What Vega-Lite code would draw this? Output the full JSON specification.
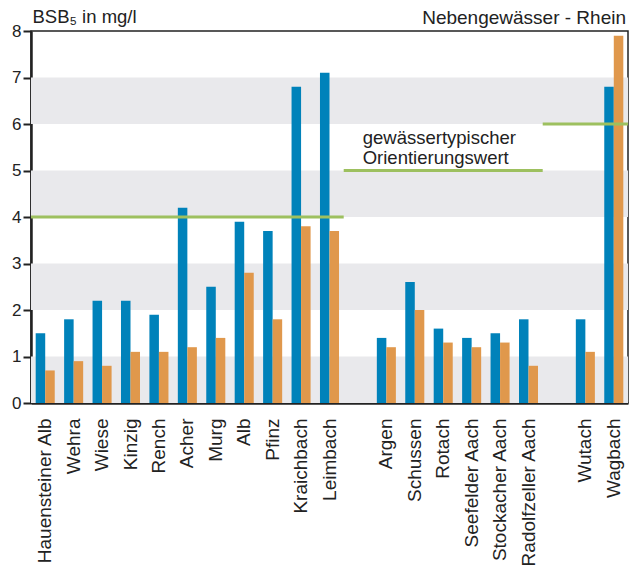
{
  "$schema": "https://vega.github.io/schema/vega-lite/v6.json",
  "autosize": "none",
  "width": 597,
  "height": 372,
  "padding": {"left": 31, "top": 31, "right": 1, "bottom": 165},
  "background": "white",
  "config": {
    "font": "Liberation Sans",
    "view": {"stroke": "#222", "strokeWidth": 1.5}
  },
  "datasets": {
    "bands": [
      {"lo": 0, "hi": 1}, {"lo": 2, "hi": 3}, {"lo": 4, "hi": 5}, {"lo": 6, "hi": 7}
    ],
    "bsb": [
      {"river": "Hauensteiner Alb", "series": "Serie 1", "value": 1.5},
      {"river": "Hauensteiner Alb", "series": "Serie 2", "value": 0.7},
      {"river": "Wehra", "series": "Serie 1", "value": 1.8},
      {"river": "Wehra", "series": "Serie 2", "value": 0.9},
      {"river": "Wiese", "series": "Serie 1", "value": 2.2},
      {"river": "Wiese", "series": "Serie 2", "value": 0.8},
      {"river": "Kinzig", "series": "Serie 1", "value": 2.2},
      {"river": "Kinzig", "series": "Serie 2", "value": 1.1},
      {"river": "Rench", "series": "Serie 1", "value": 1.9},
      {"river": "Rench", "series": "Serie 2", "value": 1.1},
      {"river": "Acher", "series": "Serie 1", "value": 4.2},
      {"river": "Acher", "series": "Serie 2", "value": 1.2},
      {"river": "Murg", "series": "Serie 1", "value": 2.5},
      {"river": "Murg", "series": "Serie 2", "value": 1.4},
      {"river": "Alb", "series": "Serie 1", "value": 3.9},
      {"river": "Alb", "series": "Serie 2", "value": 2.8},
      {"river": "Pfinz", "series": "Serie 1", "value": 3.7},
      {"river": "Pfinz", "series": "Serie 2", "value": 1.8},
      {"river": "Kraichbach", "series": "Serie 1", "value": 6.8},
      {"river": "Kraichbach", "series": "Serie 2", "value": 3.8},
      {"river": "Leimbach", "series": "Serie 1", "value": 7.1},
      {"river": "Leimbach", "series": "Serie 2", "value": 3.7},
      {"river": "Argen", "series": "Serie 1", "value": 1.4},
      {"river": "Argen", "series": "Serie 2", "value": 1.2},
      {"river": "Schussen", "series": "Serie 1", "value": 2.6},
      {"river": "Schussen", "series": "Serie 2", "value": 2.0},
      {"river": "Rotach", "series": "Serie 1", "value": 1.6},
      {"river": "Rotach", "series": "Serie 2", "value": 1.3},
      {"river": "Seefelder Aach", "series": "Serie 1", "value": 1.4},
      {"river": "Seefelder Aach", "series": "Serie 2", "value": 1.2},
      {"river": "Stockacher Aach", "series": "Serie 1", "value": 1.5},
      {"river": "Stockacher Aach", "series": "Serie 2", "value": 1.3},
      {"river": "Radolfzeller Aach", "series": "Serie 1", "value": 1.8},
      {"river": "Radolfzeller Aach", "series": "Serie 2", "value": 0.8},
      {"river": "Wutach", "series": "Serie 1", "value": 1.8},
      {"river": "Wutach", "series": "Serie 2", "value": 1.1},
      {"river": "Wagbach", "series": "Serie 1", "value": 6.8},
      {"river": "Wagbach", "series": "Serie 2", "value": 7.9}
    ],
    "refs": [
      {"start": 0, "end": 11, "value": 4},
      {"start": 11, "end": 18, "value": 5},
      {"start": 18, "end": 21, "value": 6}
    ],
    "note": [
      {"pos": 11, "value": 5}
    ],
    "heading": [
      {"pos": 21, "value": 8, "label": "Nebengewässer - Rhein"}
    ]
  },
  "resolve": {"scale": {"x": "independent"}, "axis": {"x": "independent"}},
  "layer": [
    {
      "data": {"name": "bands"},
      "mark": {"type": "rect", "color": "#e9e9ec"},
      "encoding": {
        "y": {
          "field": "lo", "type": "quantitative",
          "scale": {"domain": [0, 8], "nice": false},
          "axis": {
            "title": "BSB₅ in mg/l",
            "titleAngle": 0,
            "titleX": 1,
            "titleY": -9,
            "titleAlign": "left",
            "titleBaseline": "alphabetic",
            "titleFontSize": 18.5,
            "titleFontWeight": "normal",
            "titleColor": "#222",
            "values": [0, 1, 2, 3, 4, 5, 6, 7, 8],
            "labelFontSize": 17,
            "labelColor": "#222",
            "labelPadding": 2,
            "tickSize": 8,
            "tickWidth": 2,
            "tickColor": "#222",
            "domainColor": "#222",
            "domainWidth": 2.5,
            "grid": false
          }
        },
        "y2": {"field": "hi"}
      }
    },
    {
      "data": {"name": "bsb"},
      "mark": {"type": "bar"},
      "encoding": {
        "x": {
          "field": "river", "type": "nominal",
          "scale": {
            "domain": ["Hauensteiner Alb", "Wehra", "Wiese", "Kinzig", "Rench", "Acher", "Murg", "Alb", "Pfinz", "Kraichbach", "Leimbach", "gap1", "Argen", "Schussen", "Rotach", "Seefelder Aach", "Stockacher Aach", "Radolfzeller Aach", "gap2", "Wutach", "Wagbach"],
            "paddingInner": 0.33, "paddingOuter": 0.165
          },
          "axis": {
            "title": null,
            "labelExpr": "indexof(datum.value, 'gap') == 0 ? '' : datum.value",
            "labelAngle": -90,
            "labelFontSize": 19,
            "labelColor": "#222",
            "labelPadding": 15,
            "ticks": false,
            "domainColor": "#222",
            "domainWidth": 2.5,
            "grid": false
          }
        },
        "xOffset": {"field": "series", "type": "nominal", "scale": {"paddingInner": 0, "paddingOuter": 0}},
        "y": {
          "field": "value", "type": "quantitative",
          "title": "BSB₅ in mg/l"
        },
        "color": {
          "field": "series", "type": "nominal",
          "scale": {"range": ["#0082ba", "#e0984c"]},
          "legend": null
        }
      }
    },
    {
      "data": {"name": "refs"},
      "mark": {"type": "rule", "color": "#9dc05f", "strokeWidth": 3},
      "encoding": {
        "x": {"field": "start", "type": "quantitative", "scale": {"domain": [0, 21], "nice": false, "zero": false}, "axis": null},
        "x2": {"field": "end"},
        "y": {"field": "value", "type": "quantitative", "title": "BSB₅ in mg/l"}
      }
    },
    {
      "data": {"name": "note"},
      "mark": {
        "type": "text",
        "text": ["gewässertypischer", "Orientierungswert"],
        "align": "left",
        "baseline": "alphabetic",
        "lineHeight": 20,
        "dx": 19,
        "dy": -27,
        "fontSize": 18.5,
        "color": "#222"
      },
      "encoding": {
        "x": {"field": "pos", "type": "quantitative", "scale": {"domain": [0, 21], "nice": false, "zero": false}, "axis": null},
        "y": {"field": "value", "type": "quantitative", "title": "BSB₅ in mg/l"}
      }
    },
    {
      "data": {"name": "heading"},
      "mark": {
        "type": "text",
        "align": "right",
        "baseline": "alphabetic",
        "dx": -2,
        "dy": -7,
        "fontSize": 19,
        "color": "#222"
      },
      "encoding": {
        "x": {"field": "pos", "type": "quantitative", "scale": {"domain": [0, 21], "nice": false, "zero": false}, "axis": null},
        "y": {"field": "value", "type": "quantitative", "title": "BSB₅ in mg/l"},
        "text": {"field": "label", "type": "nominal"}
      }
    }
  ]
}
